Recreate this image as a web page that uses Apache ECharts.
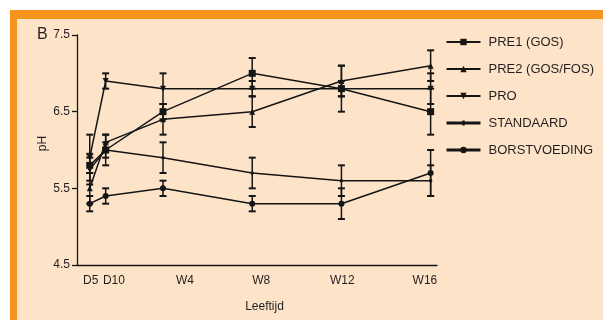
<!DOCTYPE html>
<html><head><meta charset="utf-8">
<script src="https://cdn.jsdelivr.net/npm/echarts@6/dist/echarts.min.js"></script>
<style>
html,body{margin:0;padding:0;background:#fff;width:603px;height:320px;overflow:hidden}
#frame{position:absolute;left:10px;top:10px;width:593px;height:310px;background:#F7941E}
#panel{position:absolute;left:17px;top:19px;width:586px;height:301px;background:#FDE4C9}
#chart{position:absolute;left:0;top:0;width:603px;height:320px}
</style></head><body>
<div id="frame"></div><div id="panel"></div><div id="chart"></div>
<script>
// x positions in days of age
const days = [5, 10, 28, 56, 84, 112];
const tickLabels = ['D5', 'D10', 'W4', 'W8', 'W12', 'W16'];
const tickLabelDays = [5.3, 12.6, 34.9, 58.8, 84.3, 110.2];
const yTicks = [4.5, 5.5, 6.5, 7.5];

const names = ['PRE1 (GOS)', 'PRE2 (GOS/FOS)', 'PRO', 'STANDAARD', 'BORSTVOEDING'];
const pre1 = [5.8, 6.0, 6.5, 7.0, 6.8, 6.5];
const pre1Err = [0.1, 0.1, 0.1, 0.2, 0.1, 0.3];
const pre2 = [5.5, 6.1, 6.4, 6.5, 6.9, 7.1];
const pre2Err = [0.2, 0.1, 0.2, 0.2, 0.2, 0.2];
const pro = [5.9, 6.9, 6.8, 6.8, 6.8, 6.8];
const proErr = [0.3, 0.1, 0.2, 0.1, 0.3, 0.2];
const standaard = [5.75, 6.0, 5.9, 5.7, 5.6, 5.6];
const standaardErr = [0.2, 0.2, 0.2, 0.2, 0.2, 0.2];
const borst = [5.3, 5.4, 5.5, 5.3, 5.3, 5.7];
const borstErr = [0.1, 0.1, 0.1, 0.1, 0.2, 0.3];

const values = [pre1, pre2, pro, standaard, borst];
const errs = [pre1Err, pre2Err, proErr, standaardErr, borstErr];
const symbols = ['rect', 'triangle', 'triangle', 'circle', 'circle'];
const symbolSizes = [7, 6, 6, 3.5, 6];
const symbolRot = [0, 0, 180, 0, 0];
const INK = '#151515';
const TXT = '#231f20';
const FONT = '"Liberation Sans", Arial, Helvetica, sans-serif';

function errRender(params, api) {
  const x = api.value(0), lo = api.value(1), hi = api.value(2);
  const a = api.coord([x, hi]), b = api.coord([x, lo]);
  const w = 3.5;
  return {
    type: 'group',
    children: [
      { type: 'line', shape: { x1: a[0], y1: a[1], x2: b[0], y2: b[1] }, style: { stroke: INK, lineWidth: 1.5 } },
      { type: 'line', shape: { x1: a[0] - w, y1: a[1], x2: a[0] + w, y2: a[1] }, style: { stroke: INK, lineWidth: 2 } },
      { type: 'line', shape: { x1: b[0] - w, y1: b[1], x2: b[0] + w, y2: b[1] }, style: { stroke: INK, lineWidth: 2 } }
    ]
  };
}

const series = [];
names.forEach((n, i) => {
  series.push({
    type: 'custom',
    renderItem: errRender,
    data: days.map((d, j) => [d, values[i][j] - errs[i][j], values[i][j] + errs[i][j]]),
    silent: true, z: 2
  });
});
names.forEach((n, i) => {
  series.push({
    name: n,
    type: 'line',
    data: days.map((d, j) => [d, values[i][j]]),
    symbol: symbols[i],
    symbolSize: symbolSizes[i],
    symbolRotate: symbolRot[i],
    showAllSymbol: true,
    lineStyle: { color: INK, width: 1.5 },
    itemStyle: { color: INK, borderWidth: 0 },
    emphasis: { disabled: true },
    animation: false,
    z: 3
  });
});

const chart = echarts.init(document.getElementById('chart'), null, { renderer: 'canvas' });
chart.setOption({
  backgroundColor: 'transparent',
  animation: false,
  textStyle: { fontFamily: FONT },
  grid: { left: 77, right: 166, top: 35, bottom: 55, containLabel: false },
  graphic: [
    { type: 'text', left: 37, top: 27, style: { text: 'B', font: '16px ' + FONT, fill: TXT } },
    { type: 'text', x: 42.5, y: 143.5, rotation: Math.PI / 2,
      style: { text: 'pH', font: '12px ' + FONT, fill: TXT, align: 'center', verticalAlign: 'middle' } }
  ],
  legend: {
    orient: 'vertical', left: 440, top: 30,
    itemWidth: 34, itemHeight: 8, itemGap: 13,
    textStyle: { fontSize: 13, color: TXT, fontFamily: FONT, lineHeight: 14, padding: [0, 0, 0, 3] },
    data: names.map((n, i) => (i === 3
      ? { name: n, itemStyle: { color: INK }, icon: 'path://M0,2.5L15.8,2.5L15.8,1.5L18.2,1.5L18.2,2.5L34,2.5L34,5.5L18.2,5.5L18.2,6.5L15.8,6.5L15.8,5.5L0,5.5Z' }
      : (i === 4 ? { name: n, lineStyle: { width: 3 } } : { name: n }))),
    selectedMode: false
  },
  xAxis: {
    type: 'value', min: 1, max: 114,
    name: 'Leeftijd', nameLocation: 'middle', nameGap: 36,
    nameTextStyle: { fontSize: 12, color: TXT, padding: [0, 0, 0, 15] },
    axisLine: { lineStyle: { color: INK, width: 1.3 } },
    axisTick: { show: false },
    splitLine: { show: false },
    axisLabel: {
      customValues: tickLabelDays, fontSize: 12, color: TXT, margin: 10,
      formatter: v => { const k = tickLabelDays.indexOf(v); return k >= 0 ? tickLabels[k] : ''; }
    }
  },
  yAxis: {
    type: 'value', min: 4.5, max: 7.5,
    axisLine: { show: true, lineStyle: { color: INK, width: 1.3 } },
    axisTick: { show: true, customValues: yTicks, length: 5, lineStyle: { color: INK, width: 1.3 } },
    splitLine: { show: false },
    axisLabel: { customValues: yTicks, fontSize: 12, color: TXT, margin: 7, formatter: v => v.toFixed(1) }
  },
  series: series
});
</script>
</body></html>
